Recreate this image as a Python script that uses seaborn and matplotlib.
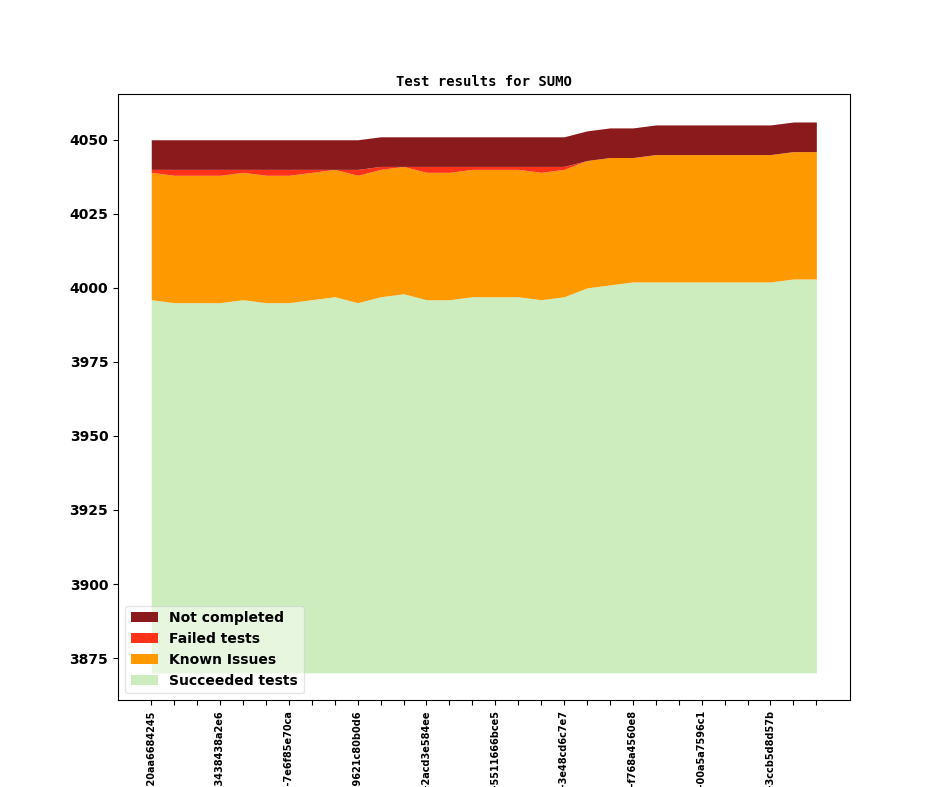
import numpy as np
import pandas as pd
import matplotlib
matplotlib.use("Agg")
import matplotlib.pyplot as plt
import seaborn as sns

# ---- data ----
builds = [
    "v1_1_0+0412-20aa6684245", "v1_1_0+0415-1b2c3d4e5f6", "v1_1_0+0419-9a8b7c6d5e4",
    "v1_1_0+0423-3438438a2e6", "v1_1_0+0428-4c5d6e7f8a9", "v1_1_0+0431-5d6e7f8a9b0",
    "v1_1_0+0436-7e6f85e70ca", "v1_1_0+0440-6e7f8a9b0c1", "v1_1_0+0444-7f8a9b0c1d2",
    "v1_1_0+0447-9621c80b0d6", "v1_1_0+0451-8a9b0c1d2e3", "v1_1_0+0455-9b0c1d2e3f4",
    "v1_1_0+0459-2acd3e584ee", "v1_1_0+0463-0c1d2e3f4a5", "v1_1_0+0466-1d2e3f4a5b6",
    "v1_1_0+0470-5511666bce5", "v1_1_0+0474-2e3f4a5b6c7", "v1_1_0+0478-3f4a5b6c7d8",
    "v1_1_0+0482-3e48cd6c7e7", "v1_1_0+0486-4a5b6c7d8e9", "v1_1_0+0489-5b6c7d8e9f0",
    "v1_1_0+0493-f768a4560e8", "v1_1_0+0497-6c7d8e9f0a1", "v1_1_0+0501-7d8e9f0a1b2",
    "v1_1_0+0505-00a5a7596c1", "v1_1_0+0509-8e9f0a1b2c3", "v1_1_0+0512-9f0a1b2c3d4",
    "v1_1_0+0516-3ccb5d8d57b", "v1_1_0+0520-0a1b2c3d4e5", "v1_1_0+0524-1b2c3d4e5f7",
]
succeeded = [3996, 3995, 3995, 3995, 3996, 3995, 3995, 3996, 3997, 3995,
             3997, 3998, 3996, 3996, 3997, 3997, 3997, 3996, 3997, 4000,
             4001, 4002, 4002, 4002, 4002, 4002, 4002, 4002, 4003, 4003]
known_issues = [43, 43, 43, 43, 43, 43, 43, 43, 43, 43,
                43, 43, 43, 43, 43, 43, 43, 43, 43, 43,
                43, 42, 43, 43, 43, 43, 43, 43, 43, 43]
failed = [1, 2, 2, 2, 1, 2, 2, 1, 0, 2,
          1, 0, 2, 2, 1, 1, 1, 2, 1, 0,
          0, 0, 0, 0, 0, 0, 0, 0, 0, 0]
not_completed = [10] * 30
baseline = 3870

series_names = ["Succeeded tests", "Known Issues", "Failed tests", "Not completed"]
series_colors = sns.color_palette(["#ceedbf", "#ff9900", "#ff3219", "#8b1a1d"])

df = pd.DataFrame({
    "build": builds,
    "Succeeded tests": succeeded,
    "Known Issues": known_issues,
    "Failed tests": failed,
    "Not completed": not_completed,
})

fig = plt.figure(figsize=(9.44, 7.87), dpi=100)
ax = fig.add_subplot(111)

x = np.arange(len(df))
lower = np.full(len(df), float(baseline))
first = True
for name, color in zip(series_names, series_colors):
    vals = df[name].to_numpy(dtype=float)
    if first:
        upper = vals
        first = False
    else:
        upper = lower + vals
    ax.fill_between(x, lower, upper, color=color, label=name, linewidth=0)
    lower = upper

ax.set_xticks(x)
ax.set_xticklabels([b if i % 3 == 0 else "" for i, b in enumerate(df["build"])],
                   rotation=90, fontsize=7, fontweight="bold")
ax.tick_params(axis="y", labelsize=10)
plt.setp(ax.get_yticklabels(), fontweight="bold")

ax.set_title("Test results for SUMO", fontsize=10, fontweight="bold",
             family="DejaVu Sans Mono")

handles, labels = ax.get_legend_handles_labels()
leg = ax.legend(handles[::-1], labels[::-1], loc="lower left", framealpha=0.5,
                prop={"weight": "bold", "size": 10})

fig.savefig("out.png", dpi=100)
